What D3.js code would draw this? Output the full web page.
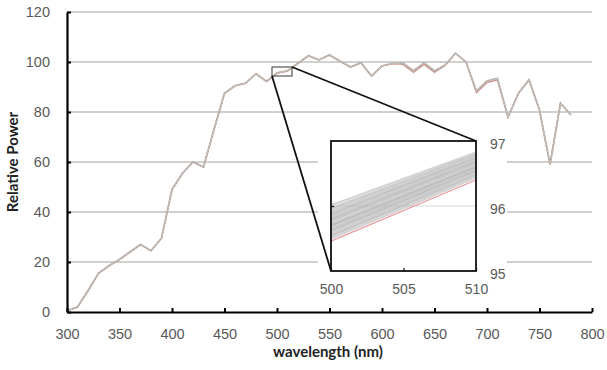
<!DOCTYPE html>
<html>
<head>
<meta charset="utf-8">
<script src="https://cdn.jsdelivr.net/npm/d3@7"></script>
<style>
  html, body { margin: 0; padding: 0; background: #fff; }
  svg { display: block; font-family: Lato, "Open Sans", sans-serif; }
</style>
</head>
<body>
<svg id="chart" width="607" height="370"></svg>
<script>
// ---- data ----
const wavelengths = [300,310,320,330,340,350,360,370,380,390,400,410,420,430,440,450,460,470,480,490,
  500,510,520,530,540,550,560,570,580,590,600,610,620,630,640,650,660,670,680,690,
  700,710,720,730,740,750,760,770,780];
const power = [0.5,2,8.5,15.5,18.5,21,24,27,24.5,29.5,49,55.5,60,58,73,87.5,90.5,91.5,95.3,92.2,
  95.7,96.5,99.5,102.5,100.8,102.8,100.3,98,99.7,94.4,98.4,99.5,99.7,96.5,99.7,96.5,98.8,103.5,100,88.5,
  92.5,93.5,78,87.5,92.8,80.8,59,83.5,78.8];
const powerRed = [0.5,2,8.5,15.5,18.5,21,24,27,24.5,29.5,49,55.5,60,58,73,87.5,90.5,91.5,95.3,92.2,
  95.5,96.4,99.5,102.5,100.8,102.8,100.3,98,99.7,94.4,98.4,99.3,99.1,95.9,99.1,95.9,98.6,103.5,100,87.8,
  91.8,92.8,78,87.5,92.8,80.8,59,83.5,78.8];
const xTicks = [300,350,400,450,500,550,600,650,700,750,800];
const yTicks = [0,20,40,60,80,100,120];

// inset (zoom 500–510 nm)
const insetX = [500, 510];
const insetYTicks = [95, 96, 97];
const insetXTicks = [500, 505, 510];
const insetAt500 = [96.01,95.96,95.92,95.88,95.84,95.8,95.77,95.73,95.7,95.66,95.62,95.58,95.54,95.5];
const insetAt510 = [96.82,96.79,96.76,96.74,96.71,96.68,96.66,96.63,96.6,96.57,96.54,96.51,96.48,96.44];
const insetRed = [95.46, 96.4];

// ---- layout ----
const svg = d3.select("#chart");
const x = d3.scaleLinear().domain([300, 800]).range([67, 592]);
const y = d3.scaleLinear().domain([0, 120]).range([312, 12]);

// gridlines
svg.append("g").selectAll("line").data(yTicks.filter(d => d > 0)).join("line")
  .attr("x1", x(300)).attr("x2", x(800))
  .attr("y1", d => y(d)).attr("y2", d => y(d))
  .attr("stroke", "#d0d0d0").attr("stroke-width", 1.8);

// inset background
const ix = d3.scaleLinear().domain(insetX).range([331, 476]);
const iy = d3.scaleLinear().domain([95, 97]).range([271, 141]);
svg.append("rect").attr("x", 318).attr("y", 128).attr("width", 189).attr("height", 174).attr("fill", "#fff");

// main lines
const line = d3.line().x((d, i) => x(wavelengths[i])).y(d => y(d));
svg.append("path").datum(powerRed).attr("d", line)
  .attr("fill", "none").attr("stroke", "#d09a96").attr("stroke-width", 1.6);
svg.append("path").datum(power).attr("d", line)
  .attr("fill", "none").attr("stroke", "#b2aea7").attr("stroke-width", 1.6);
svg.append("path").datum(power).attr("d", line)
  .attr("fill", "none").attr("stroke", "#dcd6cc").attr("stroke-width", 0.8)
  .attr("stroke-dasharray", "1.5,2");

// zoom rectangle on main chart
const zx0 = x(insetX[0]) - 5, zx1 = x(insetX[1]) + 4.5;
const zy0 = y(97) - 2.5, zy1 = y(95) + 1.5;
svg.append("rect").attr("x", zx0).attr("y", zy0).attr("width", zx1 - zx0).attr("height", zy1 - zy0)
  .attr("fill", "none").attr("stroke", "#555").attr("stroke-width", 1.2);

// connectors
svg.append("line").attr("x1", zx0).attr("y1", zy1).attr("x2", ix(500)).attr("y2", iy(95))
  .attr("stroke", "#111").attr("stroke-width", 1.8);
svg.append("line").attr("x1", zx1).attr("y1", zy0).attr("x2", ix(510)).attr("y2", iy(97))
  .attr("stroke", "#111").attr("stroke-width", 1.8);

// inset content
const inset = svg.append("g");
inset.append("rect").attr("x", ix(500)).attr("y", iy(97))
  .attr("width", ix(510) - ix(500)).attr("height", iy(95) - iy(97)).attr("fill", "#fff");
const greys = ["#d4d4d4","#cacaca","#d0d0d0","#c4c4c4","#cdcdcd","#c0c0c0","#c8c8c8","#cfcfcf","#bdbdbd","#c9c9c9","#c2c2c2","#cecece","#c6c6c6","#d2d2d2"];
insetAt500.forEach((v, i) => {
  inset.append("line").attr("x1", ix(insetX[0])).attr("y1", iy(v))
    .attr("x2", ix(insetX[1])).attr("y2", iy(insetAt510[i]))
    .attr("stroke", greys[i % greys.length]).attr("stroke-width", 2.4);
});
inset.append("line").attr("x1", ix(500)).attr("x2", ix(510)).attr("y1", iy(96)).attr("y2", iy(96))
  .attr("stroke", "#b8b8b8").attr("stroke-width", 0.8).attr("stroke-opacity", 0.7);
inset.append("line").attr("x1", ix(insetX[0])).attr("y1", iy(insetRed[0]))
  .attr("x2", ix(insetX[1])).attr("y2", iy(insetRed[1]))
  .attr("stroke", "#e79a9a").attr("stroke-width", 1.2);
inset.append("rect").attr("x", ix(500)).attr("y", iy(97))
  .attr("width", ix(510) - ix(500)).attr("height", iy(95) - iy(97))
  .attr("fill", "none").attr("stroke", "#111").attr("stroke-width", 1.8);

// inset axes
const iyAxisL = inset.append("g").attr("transform", `translate(${ix(500)},0)`)
  .call(d3.axisLeft(iy).tickValues([96]).tickSize(-3).tickFormat(""));
const iyAxisR = inset.append("g").attr("transform", `translate(${ix(510)},0)`)
  .call(d3.axisRight(iy).tickValues(insetYTicks).tickSize(0).tickPadding(14).tickFormat(d3.format("d")));
const ixAxis = inset.append("g").attr("transform", `translate(0,${iy(95)})`)
  .call(d3.axisBottom(ix).tickValues(insetXTicks).tickSize(-3).tickPadding(13).tickFormat(d3.format("d")));
[iyAxisL, iyAxisR, ixAxis].forEach(g => {
  g.select(".domain").remove();
  g.selectAll(".tick line").attr("stroke", "#111").attr("stroke-width", 1.2);
  g.selectAll("text").attr("fill", "#595959").style("font-size", "14px");
});
iyAxisR.selectAll("text").attr("dy", "0.5em");

// main axes
const xAxis = svg.append("g").attr("transform", `translate(0,${y(0)})`)
  .call(d3.axisBottom(x).tickValues(xTicks).tickSize(-4).tickSizeOuter(0).tickPadding(17).tickFormat(d3.format("d")));
const yAxis = svg.append("g").attr("transform", `translate(${x(300)},0)`)
  .call(d3.axisLeft(y).tickValues(yTicks).tickSize(-4).tickSizeOuter(0).tickPadding(17).tickFormat(d3.format("d")));
[xAxis, yAxis].forEach(g => {
  g.select(".domain").attr("stroke", "#000").attr("stroke-width", 2.2);
  g.selectAll(".tick line").attr("stroke", "#000").attr("stroke-width", 2);
  g.selectAll("text").attr("fill", "#595959").style("font-size", "14.5px");
});

// titles
svg.append("text").attr("x", 328).attr("y", 357).attr("text-anchor", "middle")
  .style("font-size", "15px").style("font-weight", "bold").attr("fill", "#222")
  .text("wavelength (nm)");
svg.append("text").attr("transform", "translate(18,162) rotate(-90)").attr("text-anchor", "middle")
  .style("font-size", "15px").style("font-weight", "bold").attr("fill", "#222")
  .text("Relative Power");
</script>
</body>
</html>
